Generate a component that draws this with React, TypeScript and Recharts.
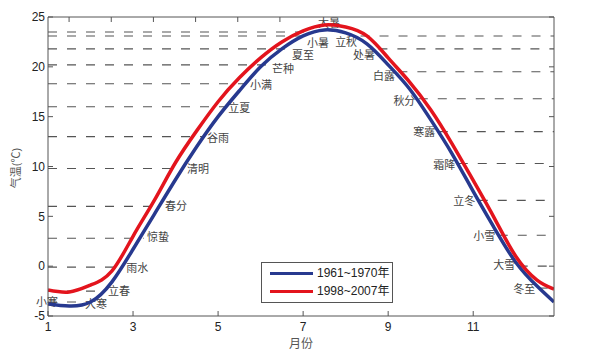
import { LineChart, Line, XAxis, YAxis, ReferenceLine, ReferenceDot, Legend } from 'recharts';

// month positions (1 = 1 Jan) and mean temperatures (℃)
const months = [1, 1.5, 2, 2.5, 3, 3.5, 4, 4.5, 5, 5.5, 6, 6.5, 7, 7.5, 8, 8.5, 9, 9.5, 10, 10.5, 11, 11.5, 12, 12.5, 12.9];
const temp1961 = [-3.8, -4.0, -3.6, -1.6, 1.7, 5.2, 8.7, 12.0, 15.0, 17.6, 20.0, 21.8, 23.1, 23.7, 23.4, 22.3, 20.2, 17.8, 14.7, 11.3, 7.5, 3.8, 0.4, -2.0, -3.6];
const temp1998 = [-2.4, -2.6, -1.9, -0.5, 3.0, 6.6, 10.4, 13.6, 16.5, 18.9, 20.9, 22.5, 23.6, 24.2, 24.0, 23.1, 20.9, 18.5, 15.7, 12.3, 8.6, 4.8, 1.0, -1.4, -2.3];

// 24 solar terms: label edge (month), dashed-line temperature, label temperature
const termNames = ['小寒', '大寒', '立春', '雨水', '惊蛰', '春分', '清明', '谷雨', '立夏', '小满', '芒种', '夏至', '小暑', '大暑', '立秋', '处暑', '白露', '秋分', '寒露', '霜降', '立冬', '小雪', '大雪', '冬至'];
const termMonth = [0.72, 1.87, 2.41, 2.84, 3.33, 3.75, 4.27, 4.74, 5.24, 5.75, 6.27, 6.74, 7.09, 7.35, 8.27, 8.69, 9.16, 9.64, 10.11, 10.58, 11.05, 11.52, 11.99, 12.46];
const termLineTemp = [-3.6, -3.6, -2.5, -0.1, 2.8, 6.0, 9.8, 13.0, 16.0, 18.3, 20.2, 21.8, 23.1, 23.5, 23.1, 21.8, 19.5, 16.8, 13.5, 10.3, 6.6, 3.1, 0.0, -2.2];
const termLabelTemp = [-3.5, -3.7, -2.4, -0.1, 3.0, 6.1, 9.8, 13.0, 16.0, 18.3, 19.9, 21.3, 22.5, 24.5, 22.6, 21.3, 19.2, 16.7, 13.6, 10.3, 6.6, 3.1, 0.2, -2.2];

const xTicks = [1, 3, 5, 7, 9, 11];
const yTicks = [-5, 0, 5, 10, 15, 20, 25];
const X_MIN = 1;
const X_MAX = 12.9;

const BLUE = '#27398f';
const RED = '#e3141d';
const AXIS = '#555';
const GAP = 0.08;

const data = months.map((m, i) => ({ m, a: temp1961[i], b: temp1998[i] }));

const terms = termNames.map((name, i) => ({
  name,
  left: i < 14,
  x: termMonth[i],
  lineT: termLineTemp[i],
  labelT: termLabelTemp[i],
}));

const tickStyle = { fontSize: 12, fill: '#222' };

const renderLegend = (props: any) => (
  <div
    style={{
      border: '1px solid #555',
      background: '#fff',
      padding: '1px 0 2px 8px',
      width: 122,
      boxSizing: 'content-box',
    }}
  >
    {(props.payload || []).map((e: any) => (
      <div key={e.value} style={{ display: 'flex', alignItems: 'center', height: 18 }}>
        <span style={{ display: 'inline-block', width: 43, height: 3, background: e.color, marginRight: 4 }} />
        <span style={{ fontSize: 12, color: '#222', lineHeight: '18px' }}>{e.value}</span>
      </div>
    ))}
  </div>
);

export default function App() {
  return (
    <div
      style={{
        position: 'absolute',
        left: 0,
        top: 0,
        width: 600,
        height: 352,
        background: '#fff',
        fontFamily: '"Liberation Sans", Arial, "Noto Sans CJK SC", sans-serif',
      }}
    >
      <LineChart width={600} height={352} data={data} margin={{ top: 16, right: 45, bottom: 0, left: 0 }}>
        <XAxis
          dataKey="m"
          type="number"
          domain={[X_MIN, X_MAX]}
          ticks={xTicks}
          allowDataOverflow
          height={36}
          stroke={AXIS}
          tickSize={-5}
          tickMargin={11}
          tick={tickStyle}
          label={{
            content: () => (
              <text x={301} y={344} textAnchor="middle" dominantBaseline="central" fontSize={12} fill="#555">
                月份
              </text>
            ),
          }}
        />
        <XAxis
          xAxisId="top"
          orientation="top"
          type="number"
          domain={[X_MIN, X_MAX]}
          ticks={xTicks}
          allowDataOverflow
          height={1}
          stroke={AXIS}
          tickSize={-5}
          tickFormatter={() => ''}
        />
        <YAxis
          type="number"
          domain={[-5, 25]}
          ticks={yTicks}
          allowDataOverflow
          width={48}
          stroke={AXIS}
          tickSize={-5}
          tickMargin={8}
          tick={tickStyle}
          label={{
            content: () => (
              <text
                x={16}
                y={168}
                transform="rotate(-90 16 168)"
                textAnchor="middle"
                dominantBaseline="central"
                fontSize={11}
                fill="#555"
              >
                气温(℃)
              </text>
            ),
          }}
        />
        <YAxis
          yAxisId="right"
          orientation="right"
          type="number"
          domain={[-5, 25]}
          ticks={yTicks}
          allowDataOverflow
          width={1}
          stroke={AXIS}
          tickSize={-5}
          tickFormatter={() => ''}
        />

        {terms
          .filter((t) => (t.left ? t.x - GAP > X_MIN : true))
          .map((t) => (
            <ReferenceLine
              key={'l' + t.name}
              segment={
                t.left
                  ? [{ x: X_MIN, y: t.lineT }, { x: t.x - GAP, y: t.lineT }]
                  : [{ x: t.x + GAP, y: t.lineT }, { x: X_MAX, y: t.lineT }]
              }
              stroke="#555"
              strokeWidth={1.1}
              strokeDasharray="9 10"
              zIndex={300}
            />
          ))}

        {terms.map((t) => (
          <ReferenceDot
            key={'d' + t.name}
            x={t.x}
            y={t.labelT}
            r={0}
            ifOverflow="visible"
            zIndex={300}
            shape={(p: any) => (
              <text
                x={p.cx}
                y={p.cy}
                textAnchor={t.left ? 'start' : 'end'}
                dominantBaseline="central"
                fontSize={11}
                fill="#444"
                fontFamily='"Noto Sans CJK SC", sans-serif'
              >
                {t.name}
              </text>
            )}
          />
        ))}

        <Line
          type="natural"
          dataKey="a"
          name="1961~1970年"
          stroke={BLUE}
          strokeWidth={3.5}
          dot={false}
          isAnimationActive={false}
        />
        <Line
          type="natural"
          dataKey="b"
          name="1998~2007年"
          stroke={RED}
          strokeWidth={3.5}
          dot={false}
          isAnimationActive={false}
        />
        <Legend
          layout="vertical"
          align="center"
          verticalAlign="middle"
          width={132}
          content={renderLegend}
          wrapperStyle={{ left: 261, top: 262, width: 132 }}
        />
      </LineChart>
    </div>
  );
}
